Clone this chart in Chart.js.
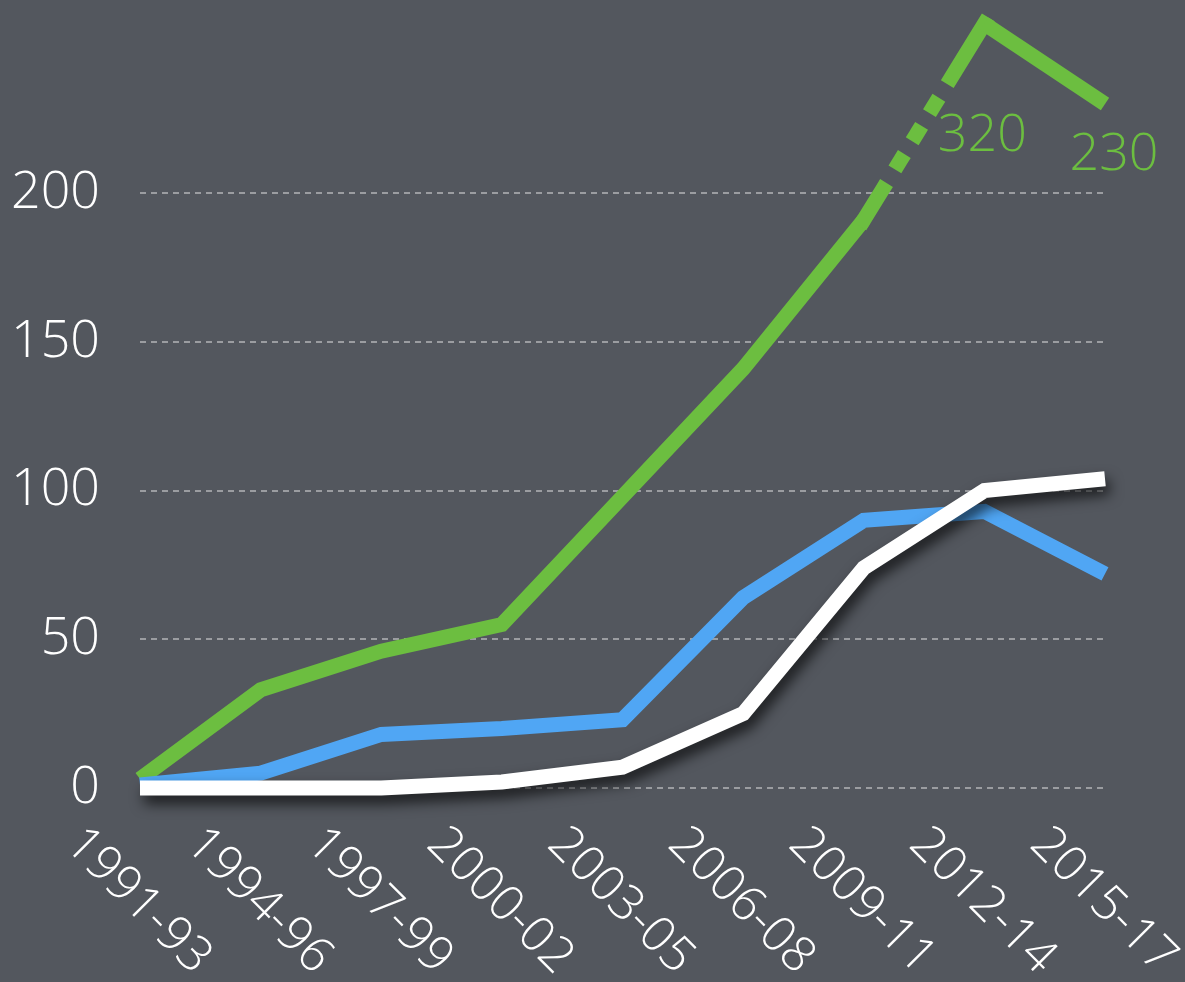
<!DOCTYPE html>
<html>
<head>
<meta charset="utf-8">
<title>Trend 1991-2017</title>
<script src="https://cdn.jsdelivr.net/npm/chart.js@4.4.1/dist/chart.umd.min.js"></script>
<style>
  html, body { margin: 0; padding: 0; background: #53575e; overflow: hidden; }
  #wrap { position: relative; width: 1185px; height: 982px; }
</style>
</head>
<body>
<div id="wrap"><canvas id="trendChart"></canvas></div>
<script>
// --- data ---
const periods = ['1991-93', '1994-96', '1997-99', '2000-02', '2003-05', '2006-08', '2009-11', '2012-14', '2015-17'];
const greenValues = [3, 33, 46, 55, 98, 141, 191, 320, 230];
const blueValues = [1, 5, 18, 20, 23, 64, 90, 93, 72];
const whiteValues = [0, 0, 0, 2, 7, 25, 74, 100, 104];
const yTicks = [0, 50, 100, 150, 200];
const labelledGreen = [7, 8];   // green points that carry a value label

const GREEN = '#6cbe40';
const BLUE = '#50a6f4';
const WHITE = '#ffffff';
const FONT = '"Open Sans"';

// values above the break get squeezed so the 2012-14 spike fits on the canvas
const AXIS_BREAK = 230;
const SQUEEZE = 0.3;

class BrokenLinearScale extends Chart.LinearScale {
    getPixelForValue(value) {
        const v = value > AXIS_BREAK ? AXIS_BREAK + (value - AXIS_BREAK) * SQUEEZE : value;
        return super.getPixelForValue(v);
    }
}
BrokenLinearScale.id = 'brokenLinear';
BrokenLinearScale.defaults = Chart.LinearScale.defaults;
Chart.register(BrokenLinearScale);

// index of the point where the dashed (broken) stretch ends
const breakIndex = greenValues.findIndex(v => v > AXIS_BREAK);

// drop shadow under datasets flagged with `shadow`
const shadowPlugin = {
    id: 'lineShadow',
    beforeDatasetDraw(chart, args) {
        if (!chart.data.datasets[args.index].shadow) return;
        const ctx = chart.ctx;
        ctx.save();
        ctx.shadowColor = 'rgba(0, 0, 0, 0.7)';
        ctx.shadowBlur = 14;
        ctx.shadowOffsetX = 4;
        ctx.shadowOffsetY = 8;
    },
    afterDatasetDraw(chart, args) {
        if (chart.data.datasets[args.index].shadow) chart.ctx.restore();
    }
};

// slanted period labels under the axis + value labels on the green line
const labelsPlugin = {
    id: 'slantLabels',
    afterDraw(chart) {
        const ctx = chart.ctx;
        const x = chart.scales.x;
        const area = chart.chartArea;

        ctx.save();
        ctx.font = `300 49px ${FONT}`;
        ctx.fillStyle = WHITE;
        ctx.textAlign = 'center';
        ctx.textBaseline = 'middle';
        periods.forEach((p, i) => {
            ctx.save();
            ctx.translate(x.getPixelForValue(i) - 2, area.bottom + 113);
            ctx.rotate(Math.PI / 4);
            ctx.fillText(p, 0, 0);
            ctx.restore();
        });

        const meta = chart.getDatasetMeta(2);
        const offsets = { 7: [-2, 112], 8: [9, 51] };
        ctx.font = `300 52px ${FONT}`;
        ctx.fillStyle = GREEN;
        labelledGreen.forEach(i => {
            const pt = meta.data[i];
            const [dx, dy] = offsets[i];
            ctx.fillText(String(greenValues[i]), pt.x + dx, pt.y + dy);
        });
        ctx.restore();
    }
};

const lineStyle = {
    borderWidth: 15,
    pointRadius: 0,
    pointHoverRadius: 0,
    tension: 0,
    fill: false,
    borderJoinStyle: 'miter',
    borderCapStyle: 'butt'
};

const ctx = document.getElementById('trendChart').getContext('2d');

new Chart(ctx, {
    type: 'line',
    data: {
        labels: periods,
        datasets: [
            { ...lineStyle, data: whiteValues, borderColor: WHITE, shadow: true, clip: false },
            { ...lineStyle, data: blueValues, borderColor: BLUE },
            {
                ...lineStyle,
                data: greenValues,
                borderColor: GREEN,
                clip: false,
                segment: {
                    // broken stretch up to the off-scale value
                    borderDash: c => c.p1DataIndex === breakIndex ? [36, 31, 3, 30, 3, 30, 3, 31, 400] : undefined,
                    borderCapStyle: c => c.p1DataIndex === breakIndex ? 'square' : undefined
                }
            }
        ]
    },
    options: {
        responsive: true,
        maintainAspectRatio: false,
        animation: false,
        layout: { padding: { top: 0, right: 80, bottom: 186, left: 0 } },
        plugins: {
            legend: { display: false },
            tooltip: { enabled: false }
        },
        scales: {
            x: {
                offset: false,
                grid: { display: false },
                border: { display: false },
                ticks: { display: false }
            },
            y: {
                type: 'brokenLinear',
                min: 0,
                max: 265,
                afterBuildTicks: scale => {
                    scale.ticks = yTicks.map(v => ({ value: v }));
                },
                afterFit: scale => {
                    scale.width = 140;
                    scale.paddingTop = 0;
                    scale.paddingBottom = 0;
                },
                grid: {
                    color: 'rgba(255, 255, 255, 0.42)',
                    lineWidth: 2,
                    drawTicks: false
                },
                border: { display: false, dash: [6, 5] },
                ticks: {
                    color: WHITE,
                    padding: 40,
                    font: { family: FONT, size: 52, weight: 300 }
                }
            }
        }
    },
    plugins: [shadowPlugin, labelsPlugin]
});
</script>
</body>
</html>
